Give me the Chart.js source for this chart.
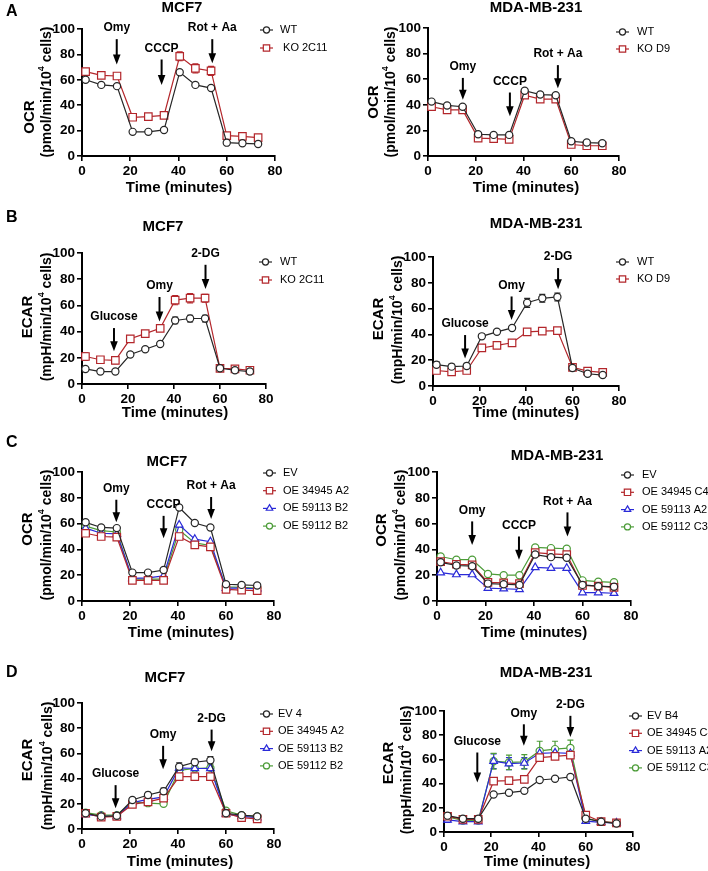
<!DOCTYPE html>
<html>
<head>
<meta charset="utf-8">
<script src="https://cdn.jsdelivr.net/npm/chart.js@4.4.0/dist/chart.umd.min.js"></script>
<style>
  body { margin: 0; background: #fff; }
  #fig { position: relative; width: 708px; height: 871px; overflow: hidden; }
  #fig canvas { position: absolute; }
</style>
</head>
<body>
<div id="fig"></div>
<script>
// measurement times (minutes)
const minutes = [1.5, 8, 14.5, 21, 27.5, 34, 40.5, 47, 53.5, 60, 66.5, 73];

// A: OCR, knockout
const ocrMcf7Wt = [60, 56, 55, 19, 19, 20.5, 66, 56, 53.5, 10.5, 10, 9.5];
const ocrMcf7Ko = [66.5, 63.5, 63, 30.5, 31, 32, 78.5, 69, 67, 16, 15.5, 14.5];
const ocrMcf7KoErr = [1.5, 1, 1, 1, 1, 1, 3.5, 3.5, 3.5, 1, 1, 1];
const ocrMdaWt = [42.5, 39.5, 38.5, 17, 16.5, 16.5, 51, 48, 47.5, 11.5, 10.5, 10];
const ocrMdaKo = [38.5, 36, 36, 14, 13.5, 13, 47.5, 44.5, 44.5, 9, 8, 8];

// B: ECAR, knockout
const ecarMcf7Wt = [11.5, 9.5, 9.5, 22.5, 26.5, 30.5, 48.5, 50, 50, 12, 10.5, 9.5];
const ecarMcf7WtErr = [1, 1, 1, 1, 1, 1.5, 2.5, 2.5, 2.5, 1, 1, 1];
const ecarMcf7Ko = [21, 18.5, 18, 34.5, 38.5, 42.5, 64, 65.5, 65.5, 12, 11.5, 10.5];
const ecarMcf7KoErr = [3, 2.5, 2.5, 2.5, 2, 2, 3.5, 3.5, 3, 1, 1, 1];
const ecarMdaWt = [16.5, 15, 15.5, 38.5, 42, 45, 64.5, 68, 69, 14, 9.5, 8.5];
const ecarMdaWtErr = [2.5, 2, 2, 1.5, 1.5, 1.5, 3.5, 3, 3, 1.5, 1, 1];
const ecarMdaKo = [12, 11, 12, 29.5, 31.5, 33.5, 42, 42.5, 43, 14.5, 11.5, 10.5];

// C: OCR, overexpression
const ocrMcf7Ev = [61, 57, 56.5, 22, 22, 24, 72.5, 60.5, 57, 13, 12.5, 12];
const ocrMcf7Oe34945 = [52.5, 50, 49.5, 16, 16, 16, 50, 43.5, 42, 9, 8.5, 8];
const ocrMcf7Oe59113 = [56.5, 52.5, 52, 17.5, 18, 19.5, 59, 48, 46, 10, 10, 9.5];
const ocrMcf7Oe59112 = [58, 54.5, 53.5, 17, 17, 17, 55, 45, 43, 11, 10.5, 10];
const ocrMdaEv = [30, 27.5, 27, 13.5, 13, 12.5, 36, 34, 33.5, 12.5, 11.5, 11];
const ocrMdaOe34945 = [30.5, 28.5, 28, 14.5, 14, 13.5, 37.5, 36.5, 36, 12, 11.5, 10.5];
const ocrMdaOe59113 = [22, 20.5, 20.5, 10, 9.5, 9, 26, 25.5, 25.5, 6.5, 6.5, 6];
const ocrMdaOe59112 = [34.5, 32, 32, 21, 20, 20, 41.5, 41, 40.5, 16, 15, 14.5];

// D: ECAR, overexpression
const ecarMcf7Ev = [12.5, 10, 10.5, 23, 27, 30, 49.5, 53, 54.5, 12.5, 11, 10];
const ecarMcf7EvErr = [1.5, 1, 1, 1.5, 2, 2.5, 3, 2.5, 3, 1, 1, 1];
const ecarMcf7Oe34945 = [12.5, 9.5, 10, 19.5, 21.5, 24.5, 41.5, 41.5, 41.5, 12.5, 9, 8];
const ecarMcf7Oe59113 = [11.5, 10, 10, 21, 23.5, 25.5, 48.5, 48, 48, 12, 10, 9];
const ecarMcf7Oe59112 = [13, 11, 11, 21.5, 20.5, 20, 46.5, 48, 48.5, 14.5, 11, 10];
const ecarMdaEv = [13.5, 11, 11, 31, 32.5, 34, 43, 44, 45.5, 11, 8.5, 7];
const ecarMdaEvErr = [1.5, 1, 1, 1, 1, 1, 1.5, 1.5, 1.5, 1, 1, 1];
const ecarMdaOe34945 = [13, 10.5, 10.5, 42, 42.5, 43.5, 61.5, 62.5, 63.5, 14, 8.5, 7.5];
const ecarMdaOe34945Err = [1.5, 1, 1, 1.5, 1.5, 1.5, 2.5, 2, 2, 1.5, 1, 1];
const ecarMdaOe59113 = [10, 8.5, 8.5, 58.5, 56.5, 57, 65, 65.5, 65, 9, 8, 7.5];
const ecarMdaOe59113Err = [2, 1, 1, 6, 5, 4.5, 3, 3, 3, 1, 1, 1];
const ecarMdaOe59112 = [12.5, 9.5, 9.5, 58.5, 57.5, 58, 67, 68.5, 69.5, 11.5, 8.5, 7.5];
const ecarMdaOe59112Err = [2, 1, 1, 6.5, 6, 6, 8, 6.5, 6.5, 1.5, 1, 1];

// injection arrows: [label, time, arrow top value, arrow tip value]
const arrowsOcrMcf7Ko = [['Omy', 14.4, 92, 72], ['CCCP', 33, 76, 56], ['Rot + Aa', 54, 92, 73]];
const arrowsOcrMdaKo = [['Omy', 14.6, 61, 44], ['CCCP', 34.3, 49.6, 31], ['Rot + Aa', 54.4, 71, 53]];
const arrowsEcarMcf7Ko = [['Glucose', 13.9, 42.7, 25], ['Omy', 33.7, 66.4, 47.8], ['2-DG', 53.7, 91, 72.5]];
const arrowsEcarMdaKo = [['Glucose', 13.8, 39.5, 21.3], ['Omy', 33.8, 69.4, 51.2], ['2-DG', 53.8, 91.4, 75]];
const arrowsOcrMcf7Oe = [['Omy', 14.3, 78.5, 61], ['CCCP', 34, 66, 48.7], ['Rot + Aa', 53.8, 80.6, 63.5]];
const arrowsOcrMdaOe = [['Omy', 14.5, 61.7, 43.5], ['CCCP', 33.8, 50, 32], ['Rot + Aa', 53.8, 68.7, 50]];
const arrowsEcarMcf7Oe = [['Glucose', 14, 34.8, 16.4], ['Omy', 33.8, 66, 47.5], ['2-DG', 54, 78.9, 61.7]];
const arrowsEcarMdaOe = [['Glucose', 14.1, 65.7, 40.9], ['Omy', 33.8, 89, 71.3], ['2-DG', 53.5, 96, 78.5]];

const FONT = '"Liberation Sans", Arial, sans-serif';
const Y_W = 40, X_H = 30;

const styles = {
  k: { color: '#262626', pointStyle: 'circle', radius: 3.6 },
  r: { color: '#b3262b', pointStyle: 'rect', radius: 5.3 },
  b: { color: '#2a2ad8', pointStyle: 'triangle', radius: 4.4 },
  g: { color: '#4c9c38', pointStyle: 'circle', radius: 3.6 },
};

const panels = [
  { box: [0, 0, 354, 200], area: [82, 29, 275, 156], letter: ['A', 6, 12],
    title: ['MCF7', 182, 8], xt: [179, 188], yt1: [30, 117], yt2: [47, 92], yName: 'OCR', unit: 'pmol/min',
    legend: { x: 260, tx: 280, y: 30, dy: 18 }, arrows: arrowsOcrMcf7Ko,
    series: [['WT', ocrMcf7Wt, 'k'], [' KO 2C11', ocrMcf7Ko, 'r', ocrMcf7KoErr]] },
  { box: [354, 0, 354, 200], area: [428, 28, 619, 156], letter: null,
    title: ['MDA-MB-231', 536, 8], xt: [526, 188], yt1: [374, 102], yt2: [391, 92], yName: 'OCR', unit: 'pmol/min',
    legend: { x: 616, tx: 637, y: 32, dy: 17 }, arrows: arrowsOcrMdaKo,
    series: [['WT', ocrMdaWt, 'k'], ['KO D9', ocrMdaKo, 'r']] },
  { box: [0, 200, 354, 220], area: [82, 253, 266, 384], letter: ['B', 6, 218],
    title: ['MCF7', 163, 227], xt: [175, 413], yt1: [28, 317], yt2: [47, 317], yName: 'ECAR', unit: 'mpH/min',
    legend: { x: 259, tx: 280, y: 262, dy: 18 }, arrows: arrowsEcarMcf7Ko,
    series: [['WT', ecarMcf7Wt, 'k', ecarMcf7WtErr], ['KO 2C11', ecarMcf7Ko, 'r', ecarMcf7KoErr]] },
  { box: [354, 200, 354, 220], area: [433, 257, 619, 386], letter: null,
    title: ['MDA-MB-231', 536, 224], xt: [526, 413], yt1: [379, 319], yt2: [398, 320], yName: 'ECAR', unit: 'mpH/min',
    legend: { x: 616, tx: 637, y: 262, dy: 17 }, arrows: arrowsEcarMdaKo,
    series: [['WT', ecarMdaWt, 'k', ecarMdaWtErr], ['KO D9', ecarMdaKo, 'r']] },
  { box: [0, 420, 354, 225], area: [82, 472, 274, 601], letter: ['C', 6, 443],
    title: ['MCF7', 167, 462], xt: [181, 633], yt1: [28, 529], yt2: [47, 535], yName: 'OCR', unit: 'pmol/min',
    legend: { x: 263, tx: 283, y: 473, dy: 17.7 }, arrows: arrowsOcrMcf7Oe,
    series: [['EV', ocrMcf7Ev, 'k'], ['OE 34945 A2', ocrMcf7Oe34945, 'r'],
             ['OE 59113 B2', ocrMcf7Oe59113, 'b'], ['OE 59112 B2', ocrMcf7Oe59112, 'g']] },
  { box: [354, 420, 354, 225], area: [437, 472, 631, 601], letter: null,
    title: ['MDA-MB-231', 557, 456], xt: [534, 633], yt1: [382, 530], yt2: [401, 535], yName: 'OCR', unit: 'pmol/min',
    legend: { x: 621, tx: 642, y: 475, dy: 17.3 }, arrows: arrowsOcrMdaOe,
    series: [['EV', ocrMdaEv, 'k'], ['OE 34945 C4', ocrMdaOe34945, 'r'],
             ['OE 59113 A2', ocrMdaOe59113, 'b'], ['OE 59112 C3', ocrMdaOe59112, 'g']] },
  { box: [0, 645, 354, 226], area: [82, 703, 274, 829], letter: ['D', 6, 673],
    title: ['MCF7', 165, 678], xt: [180, 862], yt1: [28, 760], yt2: [48, 766], yName: 'ECAR', unit: 'mpH/min',
    legend: { x: 260, tx: 278, y: 714, dy: 17.3 }, arrows: arrowsEcarMcf7Oe,
    series: [['EV 4', ecarMcf7Ev, 'k', ecarMcf7EvErr], ['OE 34945 A2', ecarMcf7Oe34945, 'r'],
             ['OE 59113 B2', ecarMcf7Oe59113, 'b'], ['OE 59112 B2', ecarMcf7Oe59112, 'g']] },
  { box: [354, 645, 354, 226], area: [444, 711, 633, 832], letter: null,
    title: ['MDA-MB-231', 546, 673], xt: [537, 862], yt1: [389, 763], yt2: [407, 770], yName: 'ECAR', unit: 'mpH/min',
    legend: { x: 629, tx: 647, y: 716, dy: 17.3 }, arrows: arrowsEcarMdaOe,
    series: [['EV B4', ecarMdaEv, 'k', ecarMdaEvErr], ['OE 34945 C4', ecarMdaOe34945, 'r', ecarMdaOe34945Err],
             ['OE 59113 A2', ecarMdaOe59113, 'b', ecarMdaOe59113Err], ['OE 59112 C3', ecarMdaOe59112, 'g', ecarMdaOe59112Err]] },
];

function text(ctx, s, x, y, font, align) {
  ctx.font = font;
  ctx.textAlign = align || 'center';
  ctx.textBaseline = 'middle';
  ctx.fillStyle = '#000';
  ctx.fillText(s, x, y);
}

function marker(ctx, st, x, y, r) {
  ctx.fillStyle = '#fff';
  ctx.strokeStyle = st.color;
  ctx.lineWidth = 1.2;
  Chart.helpers.drawPoint(ctx, { pointStyle: st.pointStyle, radius: r, borderWidth: 1.2, rotation: 0 }, x, y);
}

function makeDecor(p) {
  const ox = p.box[0], oy = p.box[1];
  return {
    id: 'decor',
    beforeDatasetsDraw(chart) {
      const { ctx, scales: { x, y } } = chart;
      ctx.save();
      chart.data.datasets.forEach((ds) => {
        if (!ds.errors) return;
        ctx.strokeStyle = ds.borderColor;
        ctx.lineWidth = 1.2;
        ds.data.forEach((pt, i) => {
          const px = x.getPixelForValue(pt.x);
          const top = y.getPixelForValue(pt.y + ds.errors[i]);
          const bot = y.getPixelForValue(pt.y - ds.errors[i]);
          ctx.beginPath();
          ctx.moveTo(px, top); ctx.lineTo(px, bot);
          ctx.moveTo(px - 3, top); ctx.lineTo(px + 3, top);
          ctx.moveTo(px - 3, bot); ctx.lineTo(px + 3, bot);
          ctx.stroke();
        });
      });
      ctx.restore();
    },
    afterDraw(chart) {
      const { ctx, scales: { x, y } } = chart;
      ctx.save();
      if (p.letter) text(ctx, p.letter[0], p.letter[1] - ox, p.letter[2] - oy, 'bold 16px ' + FONT, 'left');
      text(ctx, p.title[0], p.title[1] - ox, p.title[2] - oy, 'bold 15px ' + FONT);
      text(ctx, 'Time (minutes)', p.xt[0] - ox, p.xt[1] - oy, 'bold 15px ' + FONT);

      // y axis title, two lines, rotated
      ctx.save();
      ctx.translate(p.yt1[0] - ox, p.yt1[1] - oy);
      ctx.rotate(-Math.PI / 2);
      text(ctx, p.yName, 0, 0, 'bold 15px ' + FONT);
      ctx.restore();

      ctx.save();
      ctx.translate(p.yt2[0] - ox, p.yt2[1] - oy);
      ctx.rotate(-Math.PI / 2);
      const big = 'bold 14px ' + FONT, small = 'bold 9px ' + FONT;
      const a = '(' + p.unit + '/10', b = '4', c = ' cells)';
      ctx.font = big; const wa = ctx.measureText(a).width, wc = ctx.measureText(c).width;
      ctx.font = small; const wb = ctx.measureText(b).width;
      let sx = -(wa + wb + wc) / 2;
      text(ctx, a, sx, 0, big, 'left'); sx += wa;
      text(ctx, b, sx, -5, small, 'left'); sx += wb;
      text(ctx, c, sx, 0, big, 'left');
      ctx.restore();

      // injection arrows
      p.arrows.forEach(([name, t, from, to]) => {
        const px = x.getPixelForValue(t);
        const y1 = y.getPixelForValue(from), y2 = y.getPixelForValue(to);
        ctx.strokeStyle = '#000';
        ctx.lineWidth = 2;
        ctx.beginPath(); ctx.moveTo(px, y1); ctx.lineTo(px, y2 - 7); ctx.stroke();
        ctx.fillStyle = '#000';
        ctx.beginPath();
        ctx.moveTo(px - 3.8, y2 - 10); ctx.lineTo(px + 3.8, y2 - 10); ctx.lineTo(px, y2);
        ctx.closePath(); ctx.fill();
        text(ctx, name, px, y1 - 11, 'bold 12px ' + FONT);
      });

      // legend
      chart.data.datasets.forEach((ds, i) => {
        const st = styles[ds.styleKey];
        const ly = p.legend.y + i * p.legend.dy - oy;
        const lx = p.legend.x - ox;
        ctx.strokeStyle = st.color;
        ctx.lineWidth = 1.2;
        ctx.beginPath(); ctx.moveTo(lx, ly); ctx.lineTo(lx + 13, ly); ctx.stroke();
        marker(ctx, st, lx + 6.5, ly, st.radius * 0.85);
        text(ctx, ds.label, p.legend.tx - ox, ly, '11px ' + FONT, 'left');
      });
      ctx.restore();
    }
  };
}

const fig = document.getElementById('fig');
panels.forEach((p) => {
  const [bx, by, bw, bh] = p.box;
  const [al, at, ar, ab] = p.area;
  const canvas = document.createElement('canvas');
  canvas.width = bw; canvas.height = bh;
  canvas.style.left = bx + 'px'; canvas.style.top = by + 'px';
  canvas.style.width = bw + 'px'; canvas.style.height = bh + 'px';
  fig.appendChild(canvas);

  const datasets = p.series.map(([label, values, key, errors]) => {
    const st = styles[key];
    return {
      label: label,
      data: minutes.map((t, i) => ({ x: t, y: values[i] })),
      errors: errors,
      styleKey: key,
      borderColor: st.color,
      borderWidth: 1.2,
      tension: 0,
      pointStyle: st.pointStyle,
      pointRadius: st.radius,
      pointBorderWidth: 1.2,
      pointBorderColor: st.color,
      pointBackgroundColor: '#fff',
      clip: false,
    };
  });

  const axisFont = { family: FONT, size: 13.5, weight: 'bold' };
  new Chart(canvas, {
    type: 'line',
    data: { datasets },
    options: {
      responsive: false,
      animation: false,
      events: [],
      layout: {
        autoPadding: false,
        padding: { left: al - bx - Y_W, top: at - by, right: bx + bw - ar, bottom: by + bh - ab - X_H }
      },
      plugins: { legend: { display: false }, tooltip: { enabled: false } },
      scales: {
        x: {
          type: 'linear', min: 0, max: 80,
          ticks: { stepSize: 20, color: '#000', font: axisFont, padding: 2, maxRotation: 0 },
          grid: { drawOnChartArea: false, color: '#000', lineWidth: 1.6, tickLength: 5 },
          border: { color: '#000', width: 2 },
          afterFit: (s) => { s.height = X_H; }
        },
        y: {
          min: 0, max: 100,
          ticks: { stepSize: 20, color: '#000', font: axisFont, padding: 2 },
          grid: { drawOnChartArea: false, color: '#000', lineWidth: 1.6, tickLength: 5 },
          border: { color: '#000', width: 2 },
          afterFit: (s) => { s.width = Y_W; }
        }
      }
    },
    plugins: [makeDecor(p)]
  });
});
</script>
</body>
</html>
